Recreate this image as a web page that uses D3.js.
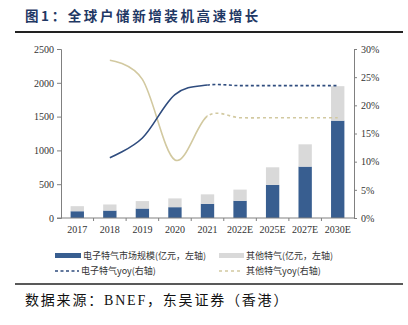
<!DOCTYPE html>
<html><head><meta charset="utf-8">
<script src="https://cdn.jsdelivr.net/npm/d3@7"></script>
<style>
html,body{margin:0;padding:0;background:#fff;}
svg{display:block;}
</style></head>
<body>
<svg id="chart" width="408" height="325"></svg>
<script>
const categories = ['2017','2018','2019','2020','2021','2022E','2025E','2027E','2030E'];
const electronicGas = [100,110,140,160,210,255,490,760,1440];
const otherGas = [75,90,110,130,140,165,260,330,510];
const electronicYoy = [null,0.107,0.142,0.219,0.236,0.235,0.235,0.235,0.235];
const otherYoy = [null,0.280,0.246,0.103,0.181,0.178,0.178,0.178,0.178];
const leftTicks = [0,500,1000,1500,2000,2500];
const rightTicks = [0,0.05,0.10,0.15,0.20,0.25,0.30];
const forecastStart = '2021';

const svg = d3.select('#chart');
const blue = '#385E90', gray = '#D9D9D9', lineBlue = '#2F4C7E', beige = '#D2C9A0', axisCol = '#808080';
const axisFont = 'Liberation Serif, Times New Roman, serif';
const cjk = 'Noto Sans CJK SC, sans-serif';

// title
svg.append('text').attr('x',25).attr('y',21)
  .attr('font-family',cjk).attr('font-weight','bold').attr('font-size',13.5)
  .attr('letter-spacing',2.6).attr('fill','#1F3864')
  .text('图1：全球户储新增装机高速增长');
svg.append('line').attr('x1',15).attr('x2',403).attr('y1',32).attr('y2',32)
  .attr('stroke','#222').attr('stroke-width',2);

const x = d3.scaleBand().domain(categories).range([61,354]).paddingInner(0.59).paddingOuter(0.295);
const xc = d => x(d) + x.bandwidth()/2;
const yL = d3.scaleLinear().domain([0,2500]).range([218,49]);
const yR = d3.scaleLinear().domain([0,0.30]).range([218,49]);

// axes
const gL = svg.append('g').attr('transform','translate(61,0)')
  .call(d3.axisLeft(yL).tickValues(leftTicks).tickSize(4).tickPadding(3).tickFormat(d3.format('d')));
const gR = svg.append('g').attr('transform','translate(354,0)')
  .call(d3.axisRight(yR).tickValues(rightTicks).tickSize(3).tickPadding(4).tickFormat(d3.format('.0%')));
[gL,gR].forEach(g=>{
  g.select('.domain').attr('stroke',axisCol);
  g.selectAll('.tick line').attr('stroke',axisCol);
  g.selectAll('text').attr('font-family',axisFont).attr('font-size',10).attr('fill','#333');
});

// bars
const stackData = categories.map((c,i)=>({c, e:electronicGas[i], o:otherGas[i]}));
svg.append('g').selectAll('rect.e').data(stackData).join('rect')
  .attr('x',d=>x(d.c)).attr('width',x.bandwidth())
  .attr('y',d=>yL(d.e)).attr('height',d=>yL(0)-yL(d.e)).attr('fill',blue);
svg.append('g').selectAll('rect.o').data(stackData).join('rect')
  .attr('x',d=>x(d.c)).attr('width',x.bandwidth())
  .attr('y',d=>yL(d.e+d.o)).attr('height',d=>yL(d.e)-yL(d.e+d.o)).attr('fill',gray);

// x axis
const gX = svg.append('g').attr('transform','translate(0,218)');
gX.append('line').attr('x1',57).attr('x2',354).attr('y1',0).attr('y2',0).attr('stroke',axisCol);
const step = x.step();
const seps = categories.slice(1).map(c => x(c) - (step - x.bandwidth())/2);
gX.selectAll('line.sep').data(seps).join('line')
  .attr('x1',d=>d).attr('x2',d=>d).attr('y1',0).attr('y2',3).attr('stroke',axisCol);
gX.selectAll('text').data(categories).join('text')
  .attr('x',d=>xc(d)).attr('y',15).attr('text-anchor','middle')
  .attr('font-family',axisFont).attr('font-size',10).attr('fill','#333').text(d=>d);

// lines
const defs = svg.append('defs');
const splitX = xc(forecastStart);
defs.append('clipPath').attr('id','solidClip').append('rect')
  .attr('x',0).attr('y',0).attr('width',splitX).attr('height',325);
defs.append('clipPath').attr('id','dashClip').append('rect')
  .attr('x',splitX).attr('y',0).attr('width',408-splitX).attr('height',325);

const line = d3.line().defined(d=>d.v!=null).x(d=>xc(d.c)).y(d=>yR(d.v)).curve(d3.curveCardinal.tension(0));
function drawSeries(vals,color,dash){
  const data = categories.map((c,i)=>({c,v:vals[i]}));
  svg.append('path').datum(data).attr('d',line).attr('fill','none')
    .attr('stroke',color).attr('stroke-width',1.6).attr('clip-path','url(#solidClip)');
  svg.append('path').datum(data).attr('d',line).attr('fill','none')
    .attr('stroke',color).attr('stroke-width',1.6).attr('stroke-dasharray',dash).attr('clip-path','url(#dashClip)');
}
drawSeries(otherYoy,beige,'3,3');
drawSeries(electronicYoy,lineBlue,'3,2.5');

// legend
const leg = svg.append('g').attr('font-family',cjk).attr('font-size',9).attr('fill','#333');
const r1 = 256, r2 = 271;
leg.append('rect').attr('x',55).attr('y',r1-3).attr('width',26).attr('height',5).attr('fill',blue);
leg.append('text').attr('x',83).attr('y',r1+3).text('电子特气市场规模(亿元，左轴)');
leg.append('rect').attr('x',219).attr('y',r1-3).attr('width',25).attr('height',5).attr('fill',gray);
leg.append('text').attr('x',246).attr('y',r1+3).text('其他特气(亿元，左轴)');
leg.append('line').attr('x1',55).attr('x2',79).attr('y1',r2).attr('y2',r2)
  .attr('stroke',lineBlue).attr('stroke-width',1.5).attr('stroke-dasharray','3,2.5');
leg.append('text').attr('x',81).attr('y',r2+3).text('电子特气yoy(右轴)');
leg.append('line').attr('x1',219).attr('x2',243).attr('y1',r2).attr('y2',r2)
  .attr('stroke',beige).attr('stroke-width',1.5).attr('stroke-dasharray','3,3');
leg.append('text').attr('x',246).attr('y',r2+3).text('其他特气yoy(右轴)');

svg.append('line').attr('x1',15).attr('x2',403).attr('y1',284).attr('y2',284)
  .attr('stroke','#222').attr('stroke-width',1.5);
svg.append('text').attr('x',25).attr('y',305)
  .attr('font-family','Liberation Serif, Noto Sans CJK SC, serif').attr('font-weight','normal')
  .attr('font-size',14).attr('letter-spacing',1.8).attr('fill','#111')
  .text('数据来源：BNEF，东吴证券（香港）');
</script>
</body></html>
